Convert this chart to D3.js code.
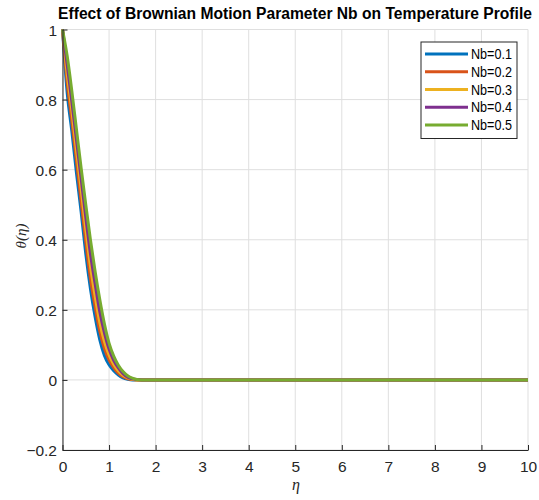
<!DOCTYPE html>
<html>
<head>
<meta charset="utf-8">
<script src="https://cdn.jsdelivr.net/npm/d3@7"></script>
<style>
  html, body { margin: 0; padding: 0; background: #fff; }
  svg { display: block; }
</style>
</head>
<body>
<svg id="chart" width="539" height="500"></svg>
<script>
// Similarity variable samples
const eta = [0, 0.1, 0.2, 0.3, 0.4, 0.5, 0.6, 0.7, 0.8, 0.9, 1.0, 1.1, 1.2, 1.3, 1.4, 1.5, 1.6, 1.7, 2, 3, 4, 5, 6, 7, 8, 9, 10];

// Temperature profiles theta(eta) for each Brownian motion parameter
const nbLabels = ["Nb=0.1", "Nb=0.2", "Nb=0.3", "Nb=0.4", "Nb=0.5"];
const thetaNb01 = [1, 0.82, 0.71, 0.59, 0.48, 0.36, 0.26, 0.18, 0.115, 0.07, 0.043, 0.026, 0.014, 0.006, 0.002, 0, 0, 0, 0, 0, 0, 0, 0, 0, 0, 0, 0];
const thetaNb02 = [1, 0.85, 0.74, 0.625, 0.51, 0.395, 0.29, 0.21, 0.14, 0.09, 0.057, 0.035, 0.019, 0.009, 0.003, 0.001, 0, 0, 0, 0, 0, 0, 0, 0, 0, 0, 0];
const thetaNb03 = [1, 0.875, 0.77, 0.655, 0.545, 0.43, 0.325, 0.24, 0.165, 0.11, 0.071, 0.045, 0.026, 0.013, 0.006, 0.002, 0, 0, 0, 0, 0, 0, 0, 0, 0, 0, 0];
const thetaNb04 = [1, 0.9, 0.795, 0.685, 0.575, 0.465, 0.36, 0.275, 0.195, 0.135, 0.088, 0.056, 0.034, 0.018, 0.008, 0.003, 0.001, 0, 0, 0, 0, 0, 0, 0, 0, 0, 0];
const thetaNb05 = [1, 0.925, 0.825, 0.715, 0.605, 0.5, 0.4, 0.31, 0.23, 0.16, 0.105, 0.068, 0.042, 0.024, 0.012, 0.005, 0.001, 0, 0, 0, 0, 0, 0, 0, 0, 0, 0];
const seriesColors = ["#0072BD", "#D95319", "#EDB120", "#7E2F8E", "#77AC30"];

// Axis ticks
const xTicks = [0, 1, 2, 3, 4, 5, 6, 7, 8, 9, 10];
const yTicks = [-0.2, 0, 0.2, 0.4, 0.6, 0.8, 1];

const titleText = "Effect of Brownian Motion Parameter Nb on Temperature Profile";

const series = [thetaNb01, thetaNb02, thetaNb03, thetaNb04, thetaNb05].map((vals, i) => ({
  label: nbLabels[i],
  color: seriesColors[i],
  points: eta.map((e, j) => [e, vals[j]])
}));

const sans = "'Liberation Sans', Arial, Helvetica, sans-serif";
const svg = d3.select("#chart");
const margin = { left: 62.5, right: 11, top: 29.5, bottom: 50 };
const W = 539, H = 500;

const x = d3.scaleLinear().domain([0, 10]).range([margin.left, W - margin.right]);
const y = d3.scaleLinear().domain([-0.2, 1]).range([H - margin.bottom, margin.top]);

const axisColor = "#262626";
const gridColor = "#dfdfdf";

// Grid
const grid = svg.append("g");
grid.selectAll("line.gx").data(xTicks).join("line")
  .attr("x1", d => x(d)).attr("x2", d => x(d))
  .attr("y1", y(-0.2)).attr("y2", y(1))
  .attr("stroke", gridColor).attr("stroke-width", 1);
grid.selectAll("line.gy").data(yTicks).join("line")
  .attr("x1", x(0)).attr("x2", x(10))
  .attr("y1", d => y(d)).attr("y2", d => y(d))
  .attr("stroke", gridColor).attr("stroke-width", 1);

// Curves
const line = d3.line().x(d => x(d[0])).y(d => y(d[1])).curve(d3.curveMonotoneX);
svg.append("g").selectAll("path").data(series).join("path")
  .attr("d", d => line(d.points))
  .attr("fill", "none")
  .attr("stroke", d => d.color)
  .attr("stroke-width", 3)
  .attr("stroke-linejoin", "round");

// Axes (ticks point inward)
const xAxis = d3.axisBottom(x).tickValues(xTicks).tickFormat(d3.format("d")).tickSizeInner(-5).tickSizeOuter(0).tickPadding(11);
const yAxis = d3.axisLeft(y).tickValues(yTicks).tickFormat(d => d3.format("~g")(d)).tickSizeInner(-5).tickSizeOuter(0).tickPadding(5.5);

const gx = svg.append("g").attr("transform", `translate(0,${y(-0.2)})`).call(xAxis);
const gy = svg.append("g").attr("transform", `translate(${x(0)},0)`).call(yAxis);
[gx, gy].forEach(g => {
  g.select(".domain").attr("stroke", axisColor).attr("stroke-width", 1);
  g.selectAll(".tick line").attr("stroke", axisColor);
  g.selectAll(".tick text").attr("fill", axisColor).attr("font-size", 15.5).attr("font-family", sans);
});
gy.selectAll(".tick text").attr("dy", "0.36em");

// Title: bold, horizontally narrowed to span the plot width
const titleG = svg.append("g");
const title = titleG.append("text")
  .attr("text-anchor", "middle")
  .attr("font-family", sans)
  .attr("font-weight", "bold")
  .attr("font-size", 17)
  .attr("fill", "#000")
  .text(titleText);
const titleScale = 474 / title.node().getComputedTextLength();
titleG.attr("transform", `translate(295,18.5) scale(${titleScale},1)`);

// Axis labels
svg.append("text")
  .attr("x", 296)
  .attr("y", 490)
  .attr("text-anchor", "middle")
  .attr("font-family", "'Liberation Serif', 'DejaVu Serif', serif")
  .attr("font-style", "italic")
  .attr("font-size", 16)
  .attr("fill", axisColor)
  .text("η");

svg.append("text")
  .attr("transform", `translate(26,236) rotate(-90)`)
  .attr("text-anchor", "middle")
  .attr("font-family", "'Liberation Serif', 'DejaVu Serif', serif")
  .attr("font-style", "italic")
  .attr("font-size", 15)
  .attr("fill", axisColor)
  .text("θ(η)");

// Legend
const legend = svg.append("g").attr("transform", "translate(421,42)");
legend.append("rect")
  .attr("x", 0).attr("y", 0).attr("width", 96).attr("height", 96.5)
  .attr("fill", "#fff").attr("stroke", axisColor).attr("stroke-width", 1);
const item = legend.selectAll("g.item").data(series).join("g")
  .attr("transform", (d, i) => `translate(0,${12 + i * 17.75})`);
item.append("line")
  .attr("x1", 4).attr("x2", 47).attr("y1", 0).attr("y2", 0)
  .attr("stroke", d => d.color).attr("stroke-width", 3);
item.append("g")
  .attr("transform", "translate(50,0) scale(0.9,1)")
  .append("text")
  .attr("dy", "0.36em")
  .attr("font-family", sans)
  .attr("font-size", 14)
  .attr("fill", "#000")
  .text(d => d.label);
</script>
</body>
</html>
